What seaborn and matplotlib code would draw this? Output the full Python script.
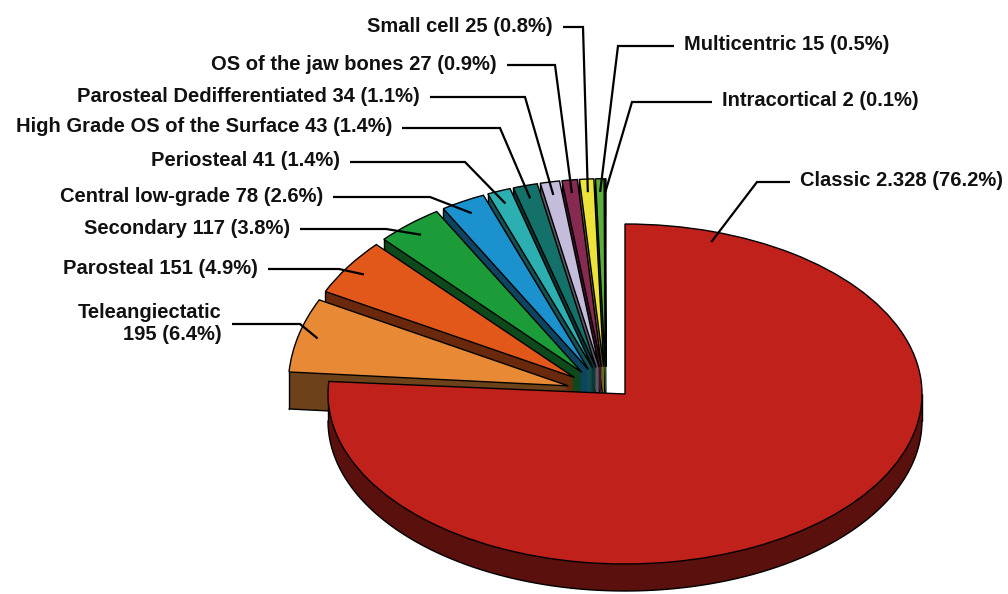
import numpy as np
import matplotlib
matplotlib.use("Agg")
import matplotlib.pyplot as plt
from matplotlib import colors as mcolors
import seaborn as sns

# ---------------- data ----------------
subtypes = ["Classic", "Teleangiectatic", "Parosteal", "Secondary",
            "Central low-grade", "Periosteal", "High Grade OS of the Surface",
            "Parosteal Dedifferentiated", "OS of the jaw bones", "Small cell",
            "Multicentric", "Intracortical"]
cases = [2328, 195, 151, 117, 78, 41, 43, 34, 27, 25, 15, 2]
percents = [76.2, 6.4, 4.9, 3.8, 2.6, 1.4, 1.4, 1.1, 0.9, 0.8, 0.5, 0.1]
slice_colors = ["#C0211A", "#E88A35", "#E2581A", "#1B9C38", "#1B91CE",
                "#2BAFB0", "#14716A", "#C3BCDA", "#862A52", "#EDE43B",
                "#5AAE3A", "#5BBCCB"]

# ---------------- style ----------------
sns.set_theme(style="white")
plt.rcParams["font.family"] = ["Liberation Sans", "DejaVu Sans"]

W, H, DPI = 1008, 594, 100
EDGE_LW = 1.0
SHADE = 0.47
side_colors = [tuple(c * SHADE for c in mcolors.to_rgb(col)) for col in slice_colors]

# pie blocks in pixel units: centre, radii of the top ellipse, wall depth, explode fraction
main_geom = dict(cx=625, cy=394, a=297, b=170, depth=27, explode=0.0)
rest_geom = dict(cx=606, cy=393, a=280, b=188, depth=37, explode=0.14)

values = np.asarray(cases, dtype=float)
frac = values / values.sum()
theta_end = 90 - 360 * np.cumsum(frac)          # clockwise from 12 o'clock
theta_start = theta_end + 360 * frac
theta_mid = 0.5 * (theta_start + theta_end)

n = len(cases)
is_main = [i == 0 for i in range(n)]
is_rest = [i != 0 for i in range(n)]

# painter's order: slices further back (higher on screen) are drawn first
depth_rank = np.argsort(np.argsort(-np.sin(np.deg2rad(theta_mid))))


def to_pixel(g, i, ang, r):
    """Pixel position of a point on slice i at angle ang (deg), radius fraction r."""
    m = np.deg2rad(theta_mid[i])
    t = np.deg2rad(ang)
    e = g["explode"]
    x = g["cx"] + g["a"] * (e * np.cos(m) + r * np.cos(t))
    y = g["cy"] - g["b"] * (e * np.sin(m) + r * np.sin(t))
    return np.asarray(x), np.asarray(y)


def draw_block(ax, g, visible):
    s = g["b"] / g["a"]
    cyd = (H - g["cy"]) / s
    dep = g["depth"]
    expl = [g["explode"] * g["a"] if v else 0.0 for v in visible]

    def ydata(ypix):
        return (H - ypix) / s

    def layer(drop_px, faces, edge, lw, zoff):
        wedges, _ = ax.pie(cases, colors=faces, startangle=90, counterclock=False,
                           radius=g["a"], center=(g["cx"], cyd - drop_px / s),
                           explode=expl,
                           wedgeprops=dict(edgecolor=edge, linewidth=lw))
        for i, (w, v) in enumerate(zip(wedges, visible)):
            w.set_visible(v)
            w.set_zorder(1 + depth_rank[i] * 0.1 + zoff)

    # side walls: stacked darker copies from the bottom up
    for d in range(dep, 0, -1):
        layer(d, side_colors, "none", 0, 0.0)

    # visible lower edges of the walls and their vertical corners
    for i, v in enumerate(visible):
        if not v:
            continue
        z = 1 + depth_rank[i] * 0.1 + 0.02
        kw = dict(color="black", lw=EDGE_LW, zorder=z, solid_capstyle="round")
        lo, hi = theta_end[i], theta_start[i]
        # front half of the rim (facing the viewer)
        for f_lo, f_hi in ((-360.0, -180.0), (-180.0, 0.0), (180.0, 360.0)):
            if f_lo == -360.0:
                continue
            a0, a1 = max(lo, f_lo), min(hi, f_hi)
            if a1 > a0:
                ang = np.linspace(a0, a1, 300)
                x, y = to_pixel(g, i, ang, 1.0)
                ax.plot(x, ydata(y + dep), **kw)
        # radial faces turned towards the viewer
        corners = []
        if np.cos(np.deg2rad(hi)) < -1e-6:
            corners.append(hi)
        if np.cos(np.deg2rad(lo)) > 1e-6:
            corners.append(lo)
        for ang in corners:
            x0, y0 = to_pixel(g, i, ang, 0.0)
            x1, y1 = to_pixel(g, i, ang, 1.0)
            ax.plot([x0, x1], ydata(np.array([y0, y1]) + dep), **kw)
        for ext in (0.0, 180.0, -180.0):
            if lo < ext < hi:
                corners.append(ext)
        for ang in corners:
            x, y = to_pixel(g, i, ang, 1.0)
            ax.plot([x, x], ydata(np.array([y, y + dep])), **kw)

    # top faces
    layer(0, slice_colors, "black", EDGE_LW, 0.05)

    ax.set_aspect("auto")
    ax.set_xlim(0, W)
    ax.set_ylim(0, H / s)
    ax.set_position([0, 0, 1, 1])
    ax.set_axis_off()


fig = plt.figure(figsize=(W / DPI, H / DPI), dpi=DPI)
fig.patch.set_facecolor("white")

ax_rest = fig.add_axes([0, 0, 1, 1], zorder=1)
ax_main = fig.add_axes([0, 0, 1, 1], zorder=2)
ax_main.patch.set_alpha(0)
draw_block(ax_rest, rest_geom, is_rest)
draw_block(ax_main, main_geom, is_main)

# ---------------- labels with leader lines ----------------
ax_lab = fig.add_axes([0, 0, 1, 1], zorder=3)
ax_lab.patch.set_alpha(0)
ax_lab.set_xlim(0, W)
ax_lab.set_ylim(H, 0)
ax_lab.set_axis_off()

# (alignment, text x, text y, knee x) for each subtype
label_layout = [
    ("left", 800, 181, 757),
    ("right", 222, 323, 300),
    ("right", 258, 268, 339),
    ("right", 290, 228, 386),
    ("right", 323, 196, 430),
    ("right", 340, 161, 465),
    ("right", 392, 127, 500),
    ("right", 420, 96, 525),
    ("right", 497, 64, 555),
    ("right", 553, 26, 583),
    ("left", 684, 45, 618),
    ("left", 722, 101, 632),
]
anchor_angle_main = 72.0
anchor_r_main = 0.94
anchor_r_rest = 0.93

for i, (name, count, pct) in enumerate(zip(subtypes, cases, percents)):
    count_txt = f"{count:,}".replace(",", ".")
    if name == "Teleangiectatic":
        txt = f"{name}\n{count_txt} ({pct}%)"
    else:
        txt = f"{name} {count_txt} ({pct}%)"
    ha, tx, ty, kx = label_layout[i]
    ax_lab.text(tx, ty, txt, ha=ha, va="center", multialignment="right",
                fontsize=14.5, fontweight="bold", color="#111111",
                linespacing=1.2)
    if i == 0:
        px, py = to_pixel(main_geom, 0, anchor_angle_main, anchor_r_main)
    else:
        px, py = to_pixel(rest_geom, i, theta_mid[i], anchor_r_rest)
    start_x = tx + 10 if ha == "right" else tx - 10
    ly = ty + 1
    ax_lab.plot([start_x, kx, float(px)], [ly, ly, float(py)], color="black",
                lw=1.6, solid_joinstyle="miter", solid_capstyle="butt")

fig.savefig("out.png", dpi=DPI, facecolor="white")
